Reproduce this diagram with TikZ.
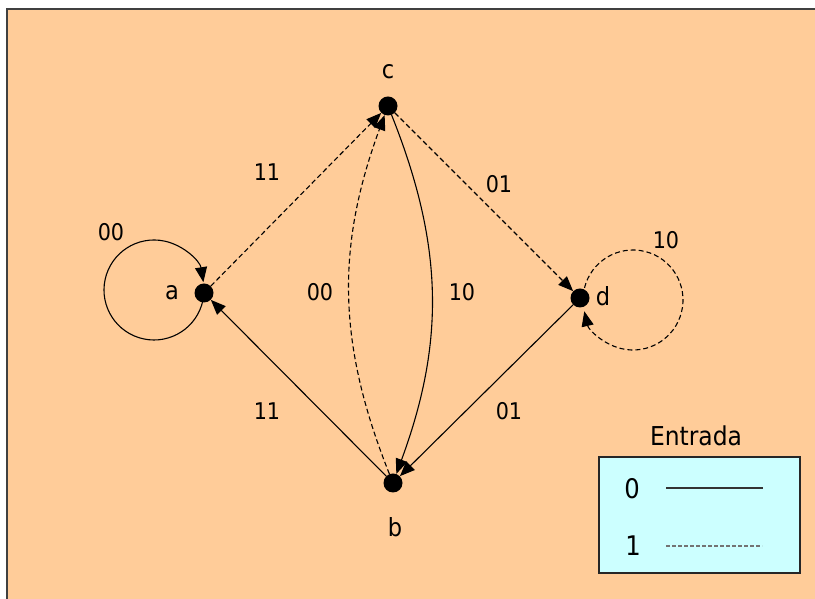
\documentclass[tikz,border=0pt]{standalone}
\usepackage{fontspec}
\setmainfont{DejaVu Sans Condensed}
\usetikzlibrary{arrows.meta}
\definecolor{bgorange}{HTML}{FFCC99}
\definecolor{legcyan}{HTML}{CCFFFF}
\definecolor{frame}{HTML}{404040}
\tikzset{
  dot/.style={circle,fill=black,inner sep=0pt,minimum size=19pt},
  edge/.style={line width=1.1pt,-{Triangle[length=15pt,width=12pt]}},
  dash1/.style={dash pattern=on 5pt off 3pt},
  lab/.style={font=\fontsize{23}{25}\selectfont,inner sep=0pt},
  nlab/.style={font=\fontsize{25}{27}\selectfont,inner sep=0pt},
}
\begin{document}
\begin{tikzpicture}[x=1pt,y=1pt]
\useasboundingbox (0,0) rectangle (815,599);
\clip (0,0) rectangle (815,599);
\fill[white] (0,0) rectangle (815,599);
\draw[fill=bgorange,draw=frame,line width=2pt] (7,590) rectangle (830,-10);
% nodes
\node[dot] (a) at (204,306) {};
\node[dot] (c) at (388,493) {};
\node[dot] (d) at (580,301) {};
\node[dot] (b) at (393,116) {};
\node[nlab] (la) at (172,306) {a};
\node[nlab] (lc) at (388,527) {c};
\node[nlab] (ld) at (603,303) {d};
\node[nlab] (lb) at (395,72) {b};
% self loops
\draw[edge] (154,309) ++(-12:50) arc[start angle=-12,end angle=-351,radius=50];
\draw[edge,dash1] (633,299) ++(166:50) arc[start angle=166,end angle=-167,radius=50];
% straight edges
\draw[edge,dash1] (a) -- (c);
\draw[edge,dash1] (c) -- (d);
\draw[edge] (b) -- (a);
\draw[edge] (d) -- (b);
% curved edges
\draw[edge,dash1] (b) to[bend left=21] (c);
\draw[edge] (c) to[bend left=21] (b);
% edge labels
\node[lab] (l1) at (267,427) {11};
\node[lab] (l2) at (499,415) {01};
\node[lab] (l3) at (111,367) {00};
\node[lab] (l4) at (666,359) {10};
\node[lab] (l5) at (320,307) {00};
\node[lab] (l6) at (462,307) {10};
\node[lab] (l7) at (267,188) {11};
\node[lab] (l8) at (509,188) {01};
% legend
\draw[fill=legcyan,draw=black!85,line width=1.8pt] (599,142) rectangle (800,26);
\node[font=\fontsize{26}{28}\selectfont,inner sep=0pt] (ent) at (696,163) {Entrada};
\node[font=\fontsize{27}{29}\selectfont,inner sep=0pt] (z) at (632,110) {0};
\node[font=\fontsize{27}{29}\selectfont,inner sep=0pt] (o) at (633,53) {1};
\coordinate (s1) at (666,111);
\coordinate (s2) at (763,111);
\coordinate (t1) at (666,53);
\coordinate (t2) at (762,53);
\draw[line width=1.2pt,black!80] (s1) -- (s2);
\draw[line width=1.1pt,black!55,dash pattern=on 4pt off 2pt] (t1) -- (t2);
\end{tikzpicture}
\end{document}
